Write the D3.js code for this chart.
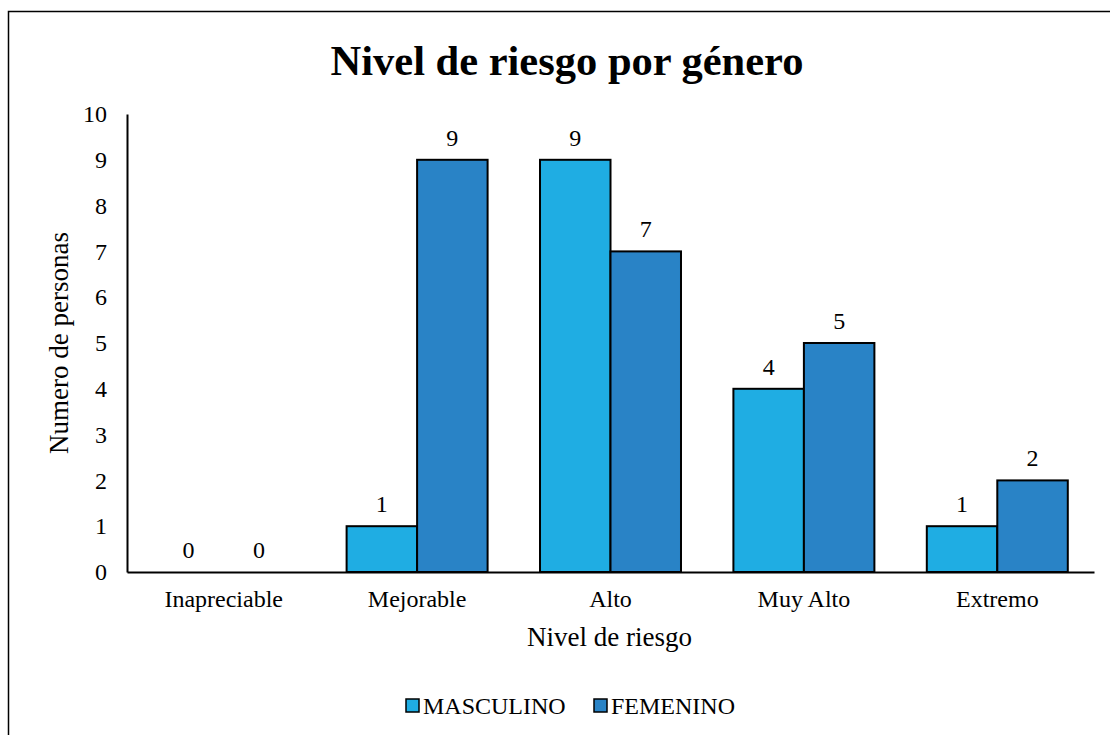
<!DOCTYPE html>
<html>
<head>
<meta charset="utf-8">
<script src="https://cdn.jsdelivr.net/npm/d3@7"></script>
<style>
    body { margin: 0; background: #fff; }
    svg text { font-family: "Liberation Serif", "Times New Roman", serif; fill: #000; }
</style>
</head>
<body>
<div id="chart"></div>
<script>
//Datos
const categorias = ['Inapreciable', 'Mejorable', 'Alto', 'Muy Alto', 'Extremo'];
const series = ['MASCULINO', 'FEMENINO'];
const masculino = [0, 1, 9, 4, 1];
const femenino = [0, 9, 7, 5, 2];
const yTicks = [0, 1, 2, 3, 4, 5, 6, 7, 8, 9, 10];

//Colores fijos
const COLOR_MASC = '#1FADE3';
const COLOR_FEM = '#2983C6';

let width = 1110, height = 735;
let margin = {top: 114, right: 15, bottom: 163, left: 127};

let svg = d3.select('#chart')
    .append('svg')
    .attr('width', width)
    .attr('height', height);

//Marco
svg.append('rect')
    .attr('x', 8.5).attr('y', 11.5)
    .attr('width', 1120).attr('height', 740)
    .attr('fill', 'none').attr('stroke', '#000').attr('stroke-width', 1.5);

//Título
svg.append('text')
    .attr('x', 567).attr('y', 75)
    .attr('text-anchor', 'middle')
    .style('font-size', '42.5px')
    .style('font-weight', 'bold')
    .text('Nivel de riesgo por género');

let g = svg.append('g')
    .attr('transform', 'translate(' + margin.left + ',' + margin.top + ')');

let w = 967, h = 458;

let x = d3.scaleBand()
    .domain(categorias)
    .range([0, w])
    .paddingInner(0.271)
    .paddingOuter(0.1355);

let x1 = d3.scaleBand()
    .domain(series)
    .range([0, x.bandwidth()]);

let y = d3.scaleLinear()
    .domain([0, 10])
    .range([h, 0]);

let color = d3.scaleOrdinal().domain(series).range([COLOR_MASC, COLOR_FEM]);

let datos = categorias.map(function(c, i) {
    return {cat: c, valores: [
        {serie: 'MASCULINO', valor: masculino[i]},
        {serie: 'FEMENINO', valor: femenino[i]}
    ]};
});

//Eje Y
let yAxis = g.append('g')
    .call(d3.axisLeft(y).tickValues(yTicks).tickSize(0).tickPadding(20));
yAxis.select('.domain').attr('stroke', '#000').attr('stroke-width', 2);
yAxis.selectAll('.tick text').style('font-size', '24px').attr('font-family', null);

//Barras
let grupos = g.selectAll('.grupo')
    .data(datos)
    .enter()
    .append('g')
    .attr('transform', function(d) { return 'translate(' + x(d.cat) + ',0)'; });

grupos.selectAll('rect')
    .data(function(d) { return d.valores.filter(function(v) { return v.valor > 0; }); })
    .enter()
    .append('rect')
    .attr('x', function(d) { return x1(d.serie); })
    .attr('y', function(d) { return y(d.valor); })
    .attr('width', x1.bandwidth())
    .attr('height', function(d) { return h - y(d.valor); })
    .attr('fill', function(d) { return color(d.serie); })
    .attr('stroke', '#000')
    .attr('stroke-width', 2);

grupos.selectAll('.etiqueta')
    .data(function(d) { return d.valores; })
    .enter()
    .append('text')
    .attr('x', function(d) { return x1(d.serie) + x1.bandwidth() / 2; })
    .attr('y', function(d) { return y(d.valor) - 14; })
    .attr('text-anchor', 'middle')
    .style('font-size', '24px')
    .text(function(d) { return d.valor; });

//Eje X
let xAxis = g.append('g')
    .attr('transform', 'translate(0,' + h + ')')
    .call(d3.axisBottom(x).tickSize(0).tickPadding(18).tickSizeOuter(0));
xAxis.select('.domain').attr('stroke', '#000').attr('stroke-width', 2);
xAxis.selectAll('.tick text').style('font-size', '24px').attr('font-family', null);

//Títulos de ejes
svg.append('text')
    .attr('transform', 'translate(68,' + (margin.top + h / 2) + ') rotate(-90)')
    .attr('text-anchor', 'middle')
    .style('font-size', '27px')
    .text('Numero de personas');

svg.append('text')
    .attr('x', margin.left + w / 2 - 1)
    .attr('y', 646)
    .attr('text-anchor', 'middle')
    .style('font-size', '27px')
    .text('Nivel de riesgo');

//Leyenda
let leyenda = svg.append('g');
let leyX = [406, 594];
series.forEach(function(s, i) {
    leyenda.append('rect')
        .attr('x', leyX[i]).attr('y', 699)
        .attr('width', 13).attr('height', 13)
        .attr('fill', color(s))
        .attr('stroke', '#000').attr('stroke-width', 1.5);
    leyenda.append('text')
        .attr('x', leyX[i] + 17).attr('y', 714)
        .style('font-size', '24px')
        .text(s);
});
</script>
</body>
</html>
